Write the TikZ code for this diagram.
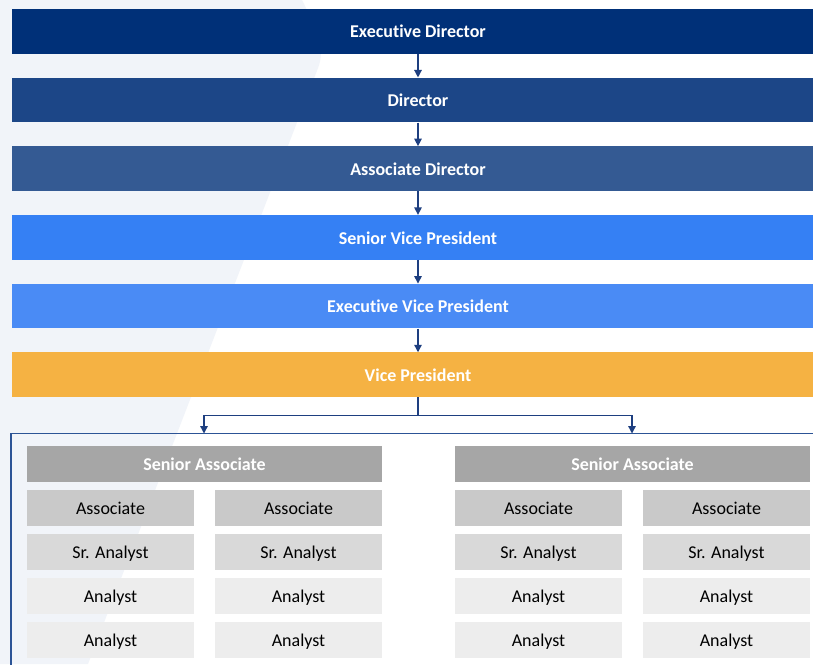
\documentclass[tikz,border=0pt]{standalone}
\usepackage{fontspec}
\setmainfont{Carlito}[Ligatures=NoCommon]
\usetikzlibrary{arrows.meta}
\definecolor{bgl}{HTML}{F1F4F9}
\definecolor{cExec}{HTML}{003078}
\definecolor{cDir}{HTML}{1C4687}
\definecolor{cADir}{HTML}{345A93}
\definecolor{cSVP}{HTML}{3580F4}
\definecolor{cEVP}{HTML}{4A8BF5}
\definecolor{cVP}{HTML}{F5B243}
\definecolor{cSA}{HTML}{A6A6A6}
\definecolor{cAsc}{HTML}{C9C9C9}
\definecolor{cSrA}{HTML}{D9D9D9}
\definecolor{cAn}{HTML}{EDEDED}
\definecolor{cLine}{HTML}{1E3F80}
\definecolor{cFrame}{HTML}{2C5496}
\tikzset{
  txt/.style={text height=16.8pt, text depth=3.6pt, inner sep=0pt, draw=none},
  bar/.style={txt, fill=#1, minimum width=812pt, minimum height=44.7pt,
    text=white, font=\fontsize{18}{20}\selectfont\bfseries},
  sabox/.style={txt, fill=cSA, minimum width=355pt, minimum height=35.7pt,
    text=white, font=\fontsize{18}{20}\selectfont\bfseries},
  cell/.style={txt, fill=#1, minimum width=167pt, minimum height=35.7pt,
    text=black, font=\fontsize{18}{20}\selectfont},
  conn/.style={draw=cLine, line width=1.3pt},
  arr/.style={conn, -{Triangle[length=7.5pt,width=7.5pt]}},
}
\begin{document}
\begin{tikzpicture}[x=1pt,y=-1pt]
\useasboundingbox (0,0) rectangle (813,664);
\clip (0,0) rectangle (813,664);
\fill[white] (0,0) rectangle (813,664);
\fill[bgl] (0,0) -- (302,0) .. controls (316,28) and (326,48) .. (318,68) -- (88,664) -- (0,664) -- cycle;
% top bars
\node[bar=cExec] (exec) at (418,31.3) {Executive Director};
\node[bar=cDir]  (dir)  at (418,100.0) {Director};
\node[bar=cADir] (adir) at (418,168.7) {Associate Director};
\node[bar=cSVP]  (svp)  at (418,237.4) {Senior Vice President};
\node[bar=cEVP]  (evp)  at (418,306.1) {Executive Vice President};
\node[bar=cVP]   (vp)   at (418,374.8) {Vice President};
\draw[arr] (exec.south) -- (dir.north);
\draw[arr] (dir.south) -- (adir.north);
\draw[arr] (adir.south) -- (svp.north);
\draw[arr] (svp.south) -- (evp.north);
\draw[arr] (evp.south) -- (vp.north);
% split connector
\coordinate (split) at (418,415.5);
\coordinate (tipL) at (204,433.5);
\coordinate (tipR) at (632,433.5);
\draw[conn] (vp.south) -- (split);
\draw[arr] (split) -| (tipL);
\draw[arr] (split) -| (tipR);
% frame
\coordinate (fbl) at (11,670);
\coordinate (ftl) at (11,433.5);
\coordinate (ftr) at (820,433.5);
\draw[draw=cFrame, line width=1.5pt] (fbl) -- (ftl) -- (ftr);
% senior associates
\node[sabox] (saL) at (204.5,463.9) {Senior Associate};
\node[sabox] (saR) at (632.5,463.9) {Senior Associate};
% cells left group
\node[cell=cAsc] (l11) at (110.5,507.9) {Associate};
\node[cell=cAsc] (l12) at (298.5,507.9) {Associate};
\node[cell=cSrA] (l21) at (110.5,551.9) {Sr. Analyst};
\node[cell=cSrA] (l22) at (298.5,551.9) {Sr. Analyst};
\node[cell=cAn]  (l31) at (110.5,595.9) {Analyst};
\node[cell=cAn]  (l32) at (298.5,595.9) {Analyst};
\node[cell=cAn]  (l41) at (110.5,639.9) {Analyst};
\node[cell=cAn]  (l42) at (298.5,639.9) {Analyst};
% cells right group
\node[cell=cAsc] (r11) at (538.5,507.9) {Associate};
\node[cell=cAsc] (r12) at (726.5,507.9) {Associate};
\node[cell=cSrA] (r21) at (538.5,551.9) {Sr. Analyst};
\node[cell=cSrA] (r22) at (726.5,551.9) {Sr. Analyst};
\node[cell=cAn]  (r31) at (538.5,595.9) {Analyst};
\node[cell=cAn]  (r32) at (726.5,595.9) {Analyst};
\node[cell=cAn]  (r41) at (538.5,639.9) {Analyst};
\node[cell=cAn]  (r42) at (726.5,639.9) {Analyst};
\end{tikzpicture}
\end{document}
